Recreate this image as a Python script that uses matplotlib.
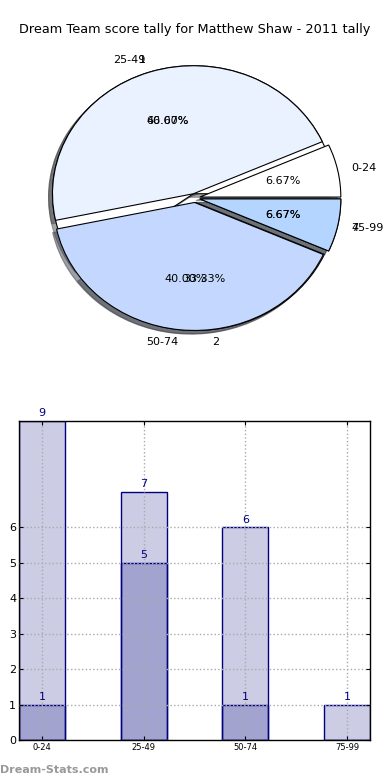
import matplotlib
matplotlib.use("Agg")
import matplotlib.pyplot as plt
import numpy as np

# ---- data ----
title = "Dream Team score tally for Matthew Shaw - 2011 tally"
pie_a_labels = ["0-24", "25-49", "50-74", "75-99"]
pie_a_values = [1, 7, 6, 1]
pie_b_labels = ["1", "2", "4"]
pie_b_values = [9, 5, 1]
pie_colors = ["#ffffff", "#eaf2ff", "#c4d8ff", "#b3d5ff"]

categories = ["0-24", "25-49", "50-74", "75-99"]
total_counts = [9, 7, 6, 1]
sub_counts = [1, 5, 1, 0]
yticks = [0, 1, 2, 3, 4, 5, 6]

W, H = 390, 780
fig = plt.figure(figsize=(W / 100, H / 100), dpi=100)

# ---- pie ----
cx, cy, rx, ry = 195, 198, 141, 128
axp = fig.add_axes([(cx - 1.25 * rx) / W, (H - cy - 1.25 * ry) / H, 2.5 * rx / W, 2.5 * ry / H])
ex = 0.035
# second pie underneath (visible only in gaps)
axp.pie(pie_b_values, labels=pie_b_labels, autopct="%1.2f%%", startangle=0,
        colors=["#ffffff"] * len(pie_b_values), explode=[ex] * len(pie_b_values), shadow=True,
        wedgeprops=dict(edgecolor="black", linewidth=0.8),
        textprops=dict(fontsize=8))
axp.pie(pie_a_values, labels=pie_a_labels, autopct="%1.2f%%", startangle=0,
        colors=pie_colors, explode=[ex] * len(pie_a_values), shadow=True,
        wedgeprops=dict(edgecolor="black", linewidth=0.8),
        textprops=dict(fontsize=8))
axp.set_aspect("auto")
axp.set_xlim(-1.25, 1.25)
axp.set_ylim(-1.25, 1.25)
axp.set_axis_off()
fig.text(0.5, (H - 30) / H, title, ha="center", va="center", fontsize=9.3)

# ---- bars ----
axb = fig.add_axes([19 / W, (H - 740.3) / H, 351 / W, 319.3 / H])
x = np.arange(len(categories))
face = (0, 0, 0.5, 0.2)
axb.bar(x, total_counts, width=0.45, color=face, edgecolor="navy", linewidth=1.0, zorder=2)
axb.bar(x, sub_counts, width=0.45, color=face, edgecolor="navy", linewidth=1.0, zorder=2)
for xi, v in zip(x, total_counts):
    if v > 0:
        axb.annotate(str(v), (xi, v), xytext=(0, 2), textcoords="offset points",
                     ha="center", va="bottom", color="navy", fontsize=8, clip_on=False)
for xi, v in zip(x, sub_counts):
    if v > 0:
        axb.annotate(str(v), (xi, v), xytext=(0, 2), textcoords="offset points",
                     ha="center", va="bottom", color="navy", fontsize=8, clip_on=False)
axb.set_xlim(-0.225, len(categories) - 1 + 0.225)
axb.set_ylim(0, max(total_counts))
axb.set_xticks(x)
axb.set_xticklabels(categories, fontsize=6)
axb.set_yticks(yticks)
axb.set_yticklabels([str(t) for t in yticks], fontsize=8)
axb.grid(True, linestyle=":", color="#aaaaaa", linewidth=1.0, zorder=0)
axb.set_axisbelow(False)
axb.tick_params(direction="in", top=True, right=True, length=3, pad=2)
for s in axb.spines.values():
    s.set_linewidth(1.0)

fig.text(0.0, (H - 770) / H, "Dream-Stats.com", ha="left", va="center",
         fontsize=8, color="#999999", fontweight="bold")

fig.savefig("out.png", dpi=100)
